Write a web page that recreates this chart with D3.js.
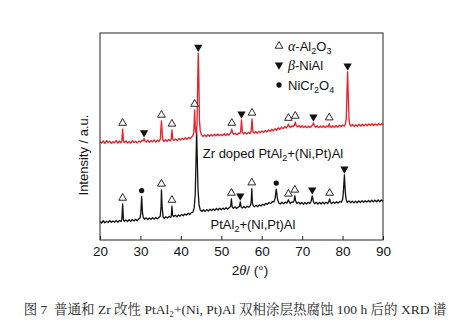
<!DOCTYPE html>
<html>
<head>
<meta charset="utf-8">
<script src="https://cdn.jsdelivr.net/npm/d3@7"></script>
<style>
  body { margin: 0; background: #fff; }
  svg { display: block; }
</style>
</head>
<body>
<svg id="chart" width="474" height="328"></svg>
<script>
// XRD patterns after 100 h hot corrosion, plotted as stacked intensities (a.u.)
// Each entry: [2θ (deg), intensity]
const zrDopedPattern = [
  [20.0,47.6],[20.4,46.8],[20.8,47.9],[21.2,46.6],[21.6,48.0],[22.0,47.1],[22.4,47.7],[22.8,46.7],
  [23.2,47.5],[23.6,46.9],[24.0,48.1],[24.4,46.8],[24.8,47.8],[25.2,47.0],[25.4,48.0],[25.6,53.6],
  [25.8,47.9],[26.0,47.0],[26.4,47.9],[26.8,46.9],[27.2,47.6],[27.6,46.8],[28.0,48.0],[28.4,47.1],
  [28.8,47.7],[29.2,46.9],[29.6,47.8],[30.0,47.2],[30.4,48.1],[30.7,47.9],[30.9,49.0],[31.1,48.0],
  [31.4,47.3],[31.8,48.2],[32.2,47.2],[32.6,48.0],[33.0,47.4],[33.4,48.3],[33.8,47.3],[34.2,48.2],
  [34.6,47.6],[34.9,48.6],[35.2,57.5],[35.5,48.5],[35.8,47.6],[36.2,48.5],[36.6,47.7],[37.0,48.6],
  [37.4,47.9],[37.6,48.8],[37.8,53.2],[38.0,48.7],[38.3,48.0],[38.7,48.8],[39.1,48.0],[39.5,49.0],
  [39.9,48.3],[40.3,49.2],[40.7,48.5],[41.1,49.4],[41.5,48.6],[41.9,49.6],[42.3,48.9],[42.7,49.8],
  [43.0,50.5],[43.2,52.0],[43.4,62.8],[43.6,53.0],[43.8,51.5],[44.0,56.0],[44.2,80.0],[44.3,90.3],
  [44.45,78.0],[44.6,58.0],[44.8,52.5],[45.1,50.8],[45.5,50.0],[45.9,50.8],[46.3,49.9],[46.7,50.9],
  [47.1,50.1],[47.5,51.0],[47.9,50.2],[48.3,51.1],[48.7,50.3],[49.1,51.2],[49.5,50.4],[49.9,51.1],
  [50.3,50.4],[50.7,51.3],[51.1,50.5],[51.5,51.4],[51.9,50.6],[52.2,51.5],[52.4,52.0],[52.6,53.6],
  [52.8,51.8],[53.1,51.0],[53.5,51.6],[53.9,50.8],[54.3,51.7],[54.6,51.4],[54.8,52.5],[55.0,58.0],
  [55.2,52.3],[55.5,51.2],[55.9,51.9],[56.3,51.2],[56.7,52.0],[57.1,51.4],[57.4,52.6],[57.6,58.5],
  [57.8,52.5],[58.1,51.6],[58.5,52.4],[58.9,51.6],[59.3,52.5],[59.7,51.8],[60.1,52.7],[60.5,52.0],
  [60.9,52.9],[61.3,52.2],[61.7,53.2],[62.1,52.5],[62.5,53.5],[62.9,52.8],[63.3,53.8],[63.7,53.0],
  [64.1,54.2],[64.5,53.4],[64.9,54.5],[65.3,53.8],[65.7,54.8],[66.1,54.1],[66.4,55.0],[66.6,56.0],
  [66.8,55.0],[67.1,54.3],[67.5,55.2],[67.8,54.8],[68.1,55.4],[68.3,57.0],[68.5,55.4],[68.8,54.6],
  [69.2,55.3],[69.6,54.4],[70.0,55.2],[70.4,54.3],[70.8,55.1],[71.2,54.2],[71.6,55.0],[72.0,54.3],
  [72.4,55.2],[72.6,55.6],[72.8,56.6],[73.0,55.4],[73.3,54.5],[73.7,55.2],[74.1,54.3],[74.5,55.1],
  [74.9,54.4],[75.3,55.2],[75.7,54.3],[76.1,55.1],[76.5,54.6],[76.7,56.2],[76.9,55.0],[77.2,54.3],
  [77.6,55.2],[78.0,54.4],[78.4,55.3],[78.8,54.5],[79.2,55.4],[79.6,54.7],[80.0,55.6],[80.4,55.0],
  [80.7,56.0],[80.9,58.5],[81.1,72.0],[81.25,81.2],[81.4,70.0],[81.6,58.0],[81.8,55.8],[82.1,55.0],
  [82.5,55.8],[82.9,54.8],[83.3,55.7],[83.7,54.9],[84.1,55.9],[84.5,55.0],[84.9,55.9],[85.3,55.1],
  [85.7,56.0],[86.1,55.2],[86.5,56.1],[86.9,55.3],[87.3,56.2],[87.7,55.3],[88.1,56.1],[88.5,55.4],
  [88.9,56.3],[89.3,55.5],[89.7,56.2],[90.0,55.6]
];

const plainPattern = [
  [20.0,9.0],[20.4,8.2],[20.8,9.3],[21.2,8.3],[21.6,9.1],[22.0,8.4],[22.4,9.4],[22.8,8.5],
  [23.2,9.2],[23.6,8.6],[24.0,9.5],[24.4,8.6],[24.8,9.4],[25.2,8.9],[25.4,9.9],[25.6,17.4],
  [25.8,9.8],[26.0,9.0],[26.4,9.7],[26.8,8.9],[27.2,9.8],[27.6,9.0],[28.0,9.9],[28.4,9.2],
  [28.8,10.0],[29.2,9.3],[29.6,10.2],[29.9,10.6],[30.1,13.0],[30.3,21.0],[30.5,13.5],[30.7,10.9],
  [31.0,10.0],[31.4,10.7],[31.8,9.9],[32.2,10.6],[32.6,10.0],[33.0,10.8],[33.4,10.1],[33.8,10.9],
  [34.2,10.2],[34.6,11.0],[34.9,11.5],[35.1,16.0],[35.2,24.2],[35.35,16.5],[35.6,11.2],[35.9,10.5],
  [36.3,11.2],[36.7,10.6],[37.1,11.4],[37.5,10.9],[37.65,12.0],[37.8,16.4],[37.95,12.0],[38.2,11.3],
  [38.6,12.0],[39.0,11.2],[39.4,12.1],[39.8,11.5],[40.2,12.4],[40.6,11.7],[41.0,12.6],[41.4,12.0],
  [41.8,12.9],[42.2,12.3],[42.6,13.2],[43.0,13.5],[43.3,15.5],[43.55,22.0],[43.75,38.0],[43.9,52.7],
  [44.05,40.0],[44.25,24.0],[44.5,17.0],[44.8,14.5],[45.2,13.8],[45.6,14.6],[46.0,13.8],[46.4,14.7],
  [46.8,14.0],[47.2,14.9],[47.6,14.2],[48.0,15.0],[48.4,14.3],[48.8,15.2],[49.2,14.5],[49.6,15.3],
  [50.0,14.6],[50.4,15.4],[50.8,14.8],[51.2,15.6],[51.6,14.9],[52.0,15.7],[52.3,16.2],[52.5,19.8],
  [52.7,16.0],[53.0,15.3],[53.4,16.0],[53.8,15.2],[54.2,15.9],[54.5,16.2],[54.7,18.4],[54.9,16.0],
  [55.2,15.4],[55.6,16.2],[56.0,15.5],[56.4,16.3],[56.8,15.8],[57.2,16.6],[57.4,18.5],[57.55,24.8],
  [57.7,18.0],[57.9,16.5],[58.2,16.0],[58.6,16.8],[59.0,16.1],[59.4,17.0],[59.8,16.4],[60.2,17.3],
  [60.6,16.8],[61.0,17.7],[61.4,17.2],[61.8,18.1],[62.2,17.6],[62.6,18.5],[63.0,18.4],[63.3,20.0],
  [63.6,24.6],[63.9,19.8],[64.2,18.0],[64.6,17.4],[65.0,18.2],[65.4,17.5],[65.8,18.3],[66.2,17.8],
  [66.4,18.6],[66.6,19.4],[66.8,18.4],[67.1,17.6],[67.5,18.4],[67.8,18.2],[68.0,19.0],[68.2,21.3],
  [68.4,18.8],[68.7,17.6],[69.1,18.3],[69.5,17.4],[69.9,18.2],[70.3,17.3],[70.7,18.1],[71.1,17.4],
  [71.5,18.2],[71.9,17.6],[72.2,18.6],[72.5,21.3],[72.8,18.5],[73.1,17.5],[73.5,18.2],[73.9,17.4],
  [74.3,18.2],[74.7,17.4],[75.1,18.3],[75.5,17.5],[75.9,18.3],[76.3,17.6],[76.6,18.5],[76.8,19.8],
  [77.0,18.3],[77.3,17.6],[77.7,18.4],[78.1,17.7],[78.5,18.5],[78.9,17.8],[79.3,18.6],[79.7,18.3],
  [80.0,19.5],[80.2,23.0],[80.45,31.4],[80.7,22.5],[80.9,19.3],[81.2,18.2],[81.6,18.9],[82.0,18.0],
  [82.4,18.8],[82.8,17.9],[83.2,18.8],[83.6,18.0],[84.0,18.9],[84.4,18.1],[84.8,19.0],[85.2,18.2],
  [85.6,19.0],[86.0,18.3],[86.4,19.1],[86.8,18.3],[87.2,19.2],[87.6,18.4],[88.0,19.2],[88.4,18.5],
  [88.8,19.3],[89.2,18.5],[89.6,19.3],[90.0,18.7]
];

// Phase identification: [2θ, phase]
const zrDopedPhases = [
  [25.6,"alumina"],[30.9,"nial"],[35.2,"alumina"],[37.8,"alumina"],[43.4,"alumina"],[44.3,"nial"],
  [52.6,"alumina"],[55.0,"nial"],[57.6,"alumina"],[66.6,"alumina"],[68.3,"alumina"],[72.8,"nial"],
  [76.7,"alumina"],[81.25,"nial"]
];
const plainPhases = [
  [25.6,"alumina"],[30.3,"spinel"],[35.2,"alumina"],[37.8,"alumina"],[52.5,"alumina"],[54.7,"nial"],
  [57.55,"alumina"],[63.6,"spinel"],[66.6,"alumina"],[68.2,"alumina"],[72.5,"nial"],[76.8,"alumina"],
  [80.45,"nial"]
];

const xTicks = [20, 30, 40, 50, 60, 70, 80, 90];
const seriesNames = ["Zr doped PtAl2+(Ni,Pt)Al", "PtAl2+(Ni,Pt)Al"];
const caption = "图 7  普通和 Zr 改性 PtAl₂+(Ni, Pt)Al 双相涂层热腐蚀 100 h 后的 XRD 谱";

const svg = d3.select("#chart");
const M = { left: 100, right: 383, top: 33, bottom: 240 };

const x = d3.scaleLinear().domain([20, 90]).range([M.left, M.right]);
const y = d3.scaleLinear().domain([0, 100]).range([M.bottom, M.top]);

const sans = "Arial, 'Liberation Sans', Helvetica, sans-serif";

// Patterns
const line = d3.line().x(d => x(d[0])).y(d => y(d[1]));
svg.append("path").datum(plainPattern)
  .attr("d", line).attr("fill", "none").attr("stroke", "#111").attr("stroke-width", 1.3)
  .attr("stroke-linejoin", "round");
svg.append("path").datum(zrDopedPattern)
  .attr("d", line).attr("fill", "none").attr("stroke", "#ee1c24").attr("stroke-width", 1.3)
  .attr("stroke-linejoin", "round");

// Frame
svg.append("rect")
  .attr("x", M.left).attr("y", M.top)
  .attr("width", M.right - M.left).attr("height", M.bottom - M.top)
  .attr("fill", "none").attr("stroke", "#222").attr("stroke-width", 1);

// Bottom axis with inward ticks
const xAxis = d3.axisBottom(x).tickValues(xTicks).tickSizeInner(-4).tickSizeOuter(0).tickPadding(6);
const gx = svg.append("g").attr("transform", `translate(0,${M.bottom})`).call(xAxis);
gx.select(".domain").remove();
gx.selectAll("line").attr("stroke", "#222");
gx.selectAll("text").attr("font-family", sans).attr("font-size", 13.5).attr("fill", "#111");

// Phase markers
const markerGen = {
  alumina: d3.symbol(d3.symbolTriangle, 26),
  nial: d3.symbol(d3.symbolTriangle, 30),
  spinel: d3.symbol(d3.symbolCircle, 22)
};
function drawMarker(g, phase, cx, cy) {
  const p = g.append("path").attr("d", markerGen[phase]())
    .attr("transform", `translate(${cx},${cy})` + (phase === "nial" ? " rotate(180)" : ""));
  if (phase === "alumina") p.attr("fill", "#fff").attr("stroke", "#111").attr("stroke-width", 0.9);
  else p.attr("fill", "#111");
}
function apexNear(pattern, t) {
  return d3.max(pattern.filter(d => Math.abs(d[0] - t) <= 0.3), d => d[1]);
}
const gm = svg.append("g");
[[zrDopedPattern, zrDopedPhases], [plainPattern, plainPhases]].forEach(([pat, phases]) => {
  phases.forEach(([t, phase]) => {
    drawMarker(gm, phase, x(t), y(apexNear(pat, t)) - 6);
  });
});

// Legend
const legend = svg.append("g").attr("font-family", sans).attr("font-size", 13).attr("fill", "#111");
const legendRows = [
  { phase: "alumina", y: 46, parts: [["α", "greek"], ["-Al"], ["2", "sub"], ["O"], ["3", "sub"]] },
  { phase: "nial", y: 65, parts: [["β", "greek"], ["-NiAl"]] },
  { phase: "spinel", y: 85, parts: [["NiCr"], ["2", "sub"], ["O"], ["4", "sub"]] }
];
legendRows.forEach(r => {
  drawMarker(legend, r.phase, 279, r.y);
  const t = legend.append("text").attr("x", 288).attr("y", r.y + 4.5);
  let prevSub = false;
  r.parts.forEach(([s, kind]) => {
    const ts = t.append("tspan").text(s);
    if (kind === "greek") ts.attr("font-family", "'Liberation Serif', 'Times New Roman', serif").attr("font-style", "italic").attr("font-size", 14);
    if (kind === "sub") { ts.attr("font-size", 9).attr("dy", 3); prevSub = true; }
    else { ts.attr("dy", prevSub ? -3 : 0); prevSub = false; }
  });
});

// Series labels
function richLabel(str, cx, cy) {
  const t = svg.append("text").attr("x", cx).attr("y", cy).attr("text-anchor", "middle")
    .attr("font-family", sans).attr("font-size", 13).attr("fill", "#111");
  const idx = str.indexOf("2");
  t.append("tspan").text(str.slice(0, idx));
  t.append("tspan").text("2").attr("font-size", 9).attr("dy", 3);
  t.append("tspan").text(str.slice(idx + 1)).attr("dy", -3);
}
richLabel(seriesNames[0], 273, 158);
richLabel(seriesNames[1], 253, 229);

// Axis titles
svg.append("text")
  .attr("transform", `translate(88,155) rotate(-90)`)
  .attr("text-anchor", "middle").attr("font-family", sans).attr("font-size", 13).attr("fill", "#111")
  .text("Intensity / a.u.");

const xt = svg.append("text").attr("x", 250).attr("y", 275).attr("text-anchor", "middle")
  .attr("font-family", sans).attr("font-size", 13.5).attr("fill", "#111");
xt.append("tspan").text("2");
xt.append("tspan").text("θ").attr("font-family", "'Liberation Serif', 'Times New Roman', serif").attr("font-style", "italic").attr("font-size", 14.5);
xt.append("tspan").text("/ (°)");

// Caption
svg.append("text").attr("x", 235).attr("y", 314).attr("text-anchor", "middle")
  .attr("font-family", "'Liberation Serif', 'Noto Serif CJK SC', 'Noto Sans CJK SC', serif")
  .attr("font-size", 13.5).attr("fill", "#2a2a2a")
  .attr("xml:space", "preserve")
  .text(caption);
</script>
</body>
</html>
